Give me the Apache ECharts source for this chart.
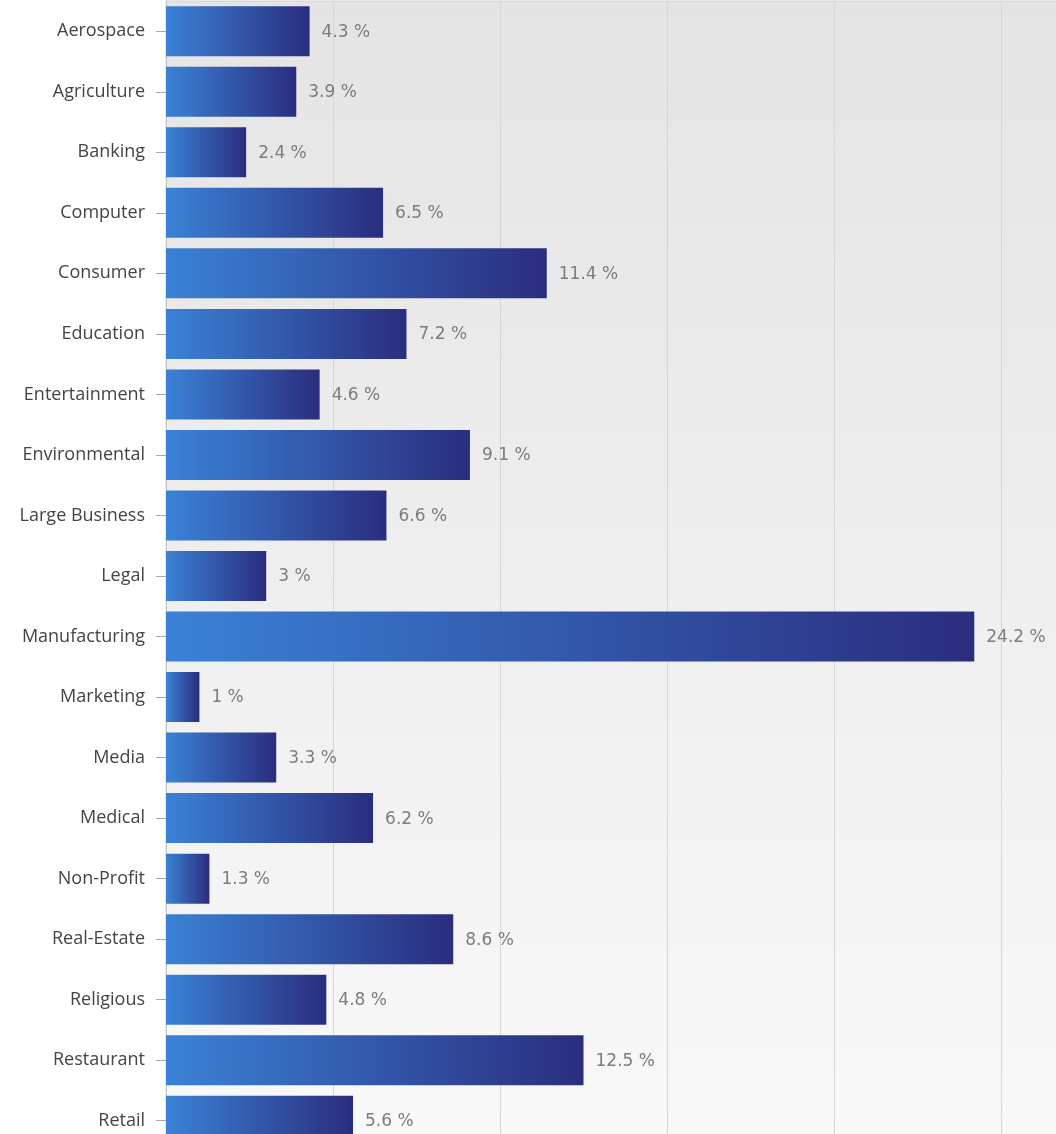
<!DOCTYPE html>
<html><head><meta charset="utf-8">
<script src="https://cdn.jsdelivr.net/npm/echarts@6/dist/echarts.min.js"></script>
<style>html,body{margin:0;padding:0;background:#fff}#c{width:1056px;height:1134px}</style>
</head><body><div id="c"></div>
<script>
const categories = ["Aerospace","Agriculture","Banking","Computer","Consumer","Education","Entertainment","Environmental","Large Business","Legal","Manufacturing","Marketing","Media","Medical","Non-Profit","Real-Estate","Religious","Restaurant","Retail"];
const values = [4.3,3.9,2.4,6.5,11.4,7.2,4.6,9.1,6.6,3,24.2,1,3.3,6.2,1.3,8.6,4.8,12.5,5.6];

const chart = echarts.init(document.getElementById('c'));
chart.setOption({
  animation: false,
  backgroundColor: '#ffffff',
  grid: {
    left: 166, top: 1, width: 1002, height: 1150,
    outerBoundsMode: 'none',
    containLabel: false,
    show: true,
    borderColor: '#d0d0d0', borderWidth: 1,
    backgroundColor: new echarts.graphic.LinearGradient(0, 0, 0, 1, [
      {offset: 0, color: '#e4e4e4'}, {offset: 1, color: '#f9f9f9'}
    ])
  },
  xAxis: {
    type: 'value', min: 0, max: 30, interval: 5,
    axisLabel: {show: false}, axisTick: {show: false}, axisLine: {show: false},
    splitLine: {show: true, lineStyle: {color: '#d6d6d6', width: 1}}
  },
  yAxis: {
    type: 'category', data: categories, inverse: true,
    axisLine: {show: true, lineStyle: {color: '#c8c8c8'}},
    axisTick: {show: true, alignWithLabel: true, length: 10, lineStyle: {color: '#a8a8a8'}},
    axisLabel: {color: '#444444', fontSize: 18, fontFamily: 'Open Sans', margin: 21, padding: [4, 0, 0, 0]}
  },
  series: [{
    type: 'bar', data: values, barWidth: 50,
    itemStyle: {
      color: new echarts.graphic.LinearGradient(0, 0, 1, 0, [
        {offset: 0, color: '#3a82d6'}, {offset: 1, color: '#2b2d7e'}
      ])
    },
    label: {
      show: true, position: 'right', distance: 12, offset: [0, 1],
      color: '#7c7c7c', fontSize: 17, fontFamily: 'DejaVu Sans',
      formatter: p => p.value + ' %'
    }
  }]
});
</script></body></html>
